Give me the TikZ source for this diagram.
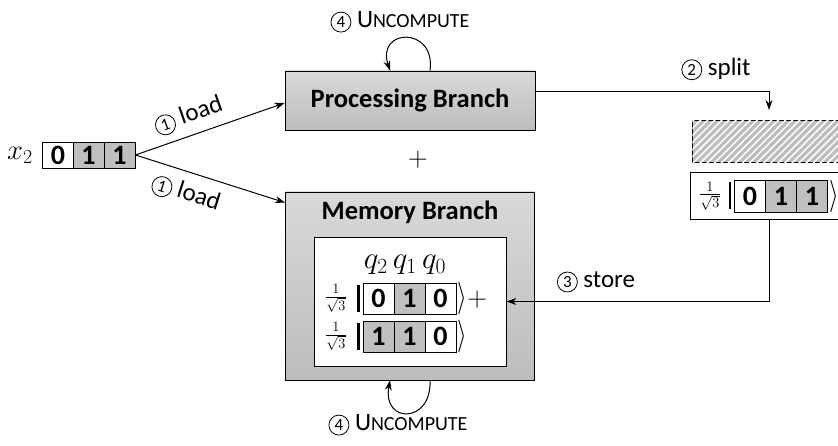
\documentclass[tikz,border=0pt]{standalone}
\usepackage{fontspec}
\setmainfont{Carlito}
\usetikzlibrary{patterns.meta,arrows.meta}
\definecolor{cellgray}{HTML}{BFBFBF}
\definecolor{hatchgray}{HTML}{BDBDBD}
\newcommand{\cn}[1]{\tikz[baseline=(c.base)]\node[circle, draw, solid, line width=0.8pt, inner sep=0pt, minimum size=20pt, font=\fontsize{17}{17}\selectfont] (c) {#1};}
\newcommand{\uncomp}{\cn{4}\ U{\fontsize{20}{20}\selectfont NCOMPUTE}}
\newcommand{\isq}{{\fontsize{20}{20}\selectfont$\frac{1}{\sqrt{3}}$}}
\newcommand{\kr}{{\fontsize{24}{24}\selectfont\scalebox{1}[1.3]{$\rangle$}}}
\tikzset{
  cellw/.style={draw, line width=0.8pt, fill=white, minimum width=31pt, minimum height=31pt, inner sep=0pt, font=\fontsize{28}{28}\selectfont\bfseries},
  cellg/.style={cellw, fill=cellgray},
  branch/.style={draw, line width=0.8pt, top color=gray!30, bottom color=gray!52},
  lbl/.style={font=\fontsize{25}{27}\selectfont, inner sep=2pt},
  ttl/.style={font=\fontsize{26.5}{28}\selectfont\bfseries, inner sep=0pt},
  arr/.style={-{Stealth[length=10pt,width=7pt]}, line width=1pt},
  plain/.style={inner sep=0pt},
  ketbar/.style={inner sep=0pt},
}
\begin{document}
\begin{tikzpicture}[x=1pt,y=-1pt]
\useasboundingbox (0,0) rectangle (838,446);
\clip (0,0) rectangle (838,446);
% input register
\node[plain, font=\fontsize{24}{24}\selectfont] (x2) at (20,155) {\scalebox{1.15}{$x_2$}};
\node[cellw, minimum height=26pt] (r0) at (58,155) {0};
\node[cellg, minimum height=26pt] (r1) at (88.5,155) {1};
\node[cellg, minimum height=26pt] (r2) at (119.5,155) {1};
% processing branch
\node[branch, minimum width=250pt, minimum height=59pt, ttl] (proc) at (410,100.5) {Processing Branch};
\node[plain, font=\fontsize{24}{24}\selectfont] (plus) at (418,160) {\scalebox{1.1}{$+$}};
% memory branch
\node[branch, minimum width=249pt, minimum height=188pt] (mem) at (410,286) {};
\node[ttl] (memt) at (410,212) {Memory Branch};
\node[draw, line width=0.8pt, fill=white, minimum width=192pt, minimum height=129pt] (inner) at (410,301.5) {};
\node[plain, font=\fontsize{24}{24}\selectfont] (q) at (405,265) {\scalebox{1.25}{$q_2\,q_1\,q_0$}};
\node[plain] (f1) at (336,298.5) {\isq};
\node[ketbar] (b1) at (358.5,298.5) {\rule{2.6pt}{27pt}};
\node[cellw] (m11) at (378.5,298.5) {0};
\node[cellg] (m12) at (409.5,298.5) {1};
\node[cellw] (m13) at (440.5,298.5) {0};
\node[plain, anchor=west] (k1) at ([xshift=1pt]m13.east) {\kr{\fontsize{24}{24}\selectfont\scalebox{1.1}{$+$}}};
\node[plain] (f2) at (336,336.5) {\isq};
\node[ketbar] (b2) at (358.5,336.5) {\rule{2.6pt}{27pt}};
\node[cellg] (m21) at (378.5,336.5) {1};
\node[cellg] (m22) at (409.5,336.5) {1};
\node[cellw] (m23) at (440.5,336.5) {0};
\node[plain, anchor=west] (k2) at ([xshift=1pt]m23.east) {\kr};
% right side
\node[draw, line width=0.8pt, fill=hatchgray, postaction={pattern={Lines[angle=45,distance=5pt,line width=1.5pt]}, pattern color=white}, minimum width=220pt, minimum height=42pt, anchor=north west] (hatch) at (692,120) {};
\node[draw, line width=0.8pt, fill=white, minimum width=220pt, minimum height=47pt, anchor=north west] (state) at (690,172) {};
\node[plain] (f3) at (710,196) {\isq};
\node[ketbar] (b3) at (730,196) {\rule{2.6pt}{27pt}};
\node[cellw, minimum height=32pt] (s1) at (750,196) {0};
\node[cellg, minimum height=32pt] (s2) at (781,196) {1};
\node[cellg, minimum height=32pt] (s3) at (812,196) {1};
\node[plain, anchor=west] (k3) at ([xshift=1pt]s3.east) {\kr};
% connectors
\draw[arr] (r2.east) -- ([yshift=-2.5pt]proc.west)
  node[lbl, sloped, above=6pt, pos=0.4] (l1) {\cn{1} load};
\draw[arr] (r2.east) -- ([yshift=-11pt]mem.north west)
  node[lbl, sloped, below=8pt, pos=0.38] (l2) {\cn{1} load};
\coordinate (splitend) at (769,110);
\draw[arr] ([yshift=9pt]proc.east) -| (splitend);
\node[lbl] (splitl) at (716,69) {\cn{2} split};
\coordinate (storebeg) at (769,219);
\draw[arr] (storebeg) |- (inner.east);
\node[lbl] (storel) at (596,282) {\cn{3} store};
\draw[arr] ([xshift=20pt]proc.north) .. controls (436,26) and (376,28) .. ([xshift=-20pt]proc.north);
\node[lbl] (u1) at (400,22) {\uncomp};
\draw[arr] ([xshift=20pt]mem.south) .. controls (432,424) and (382,424) .. ([xshift=-20pt]mem.south);
\node[lbl] (u2) at (398,425) {\uncomp};
\end{tikzpicture}
\end{document}
